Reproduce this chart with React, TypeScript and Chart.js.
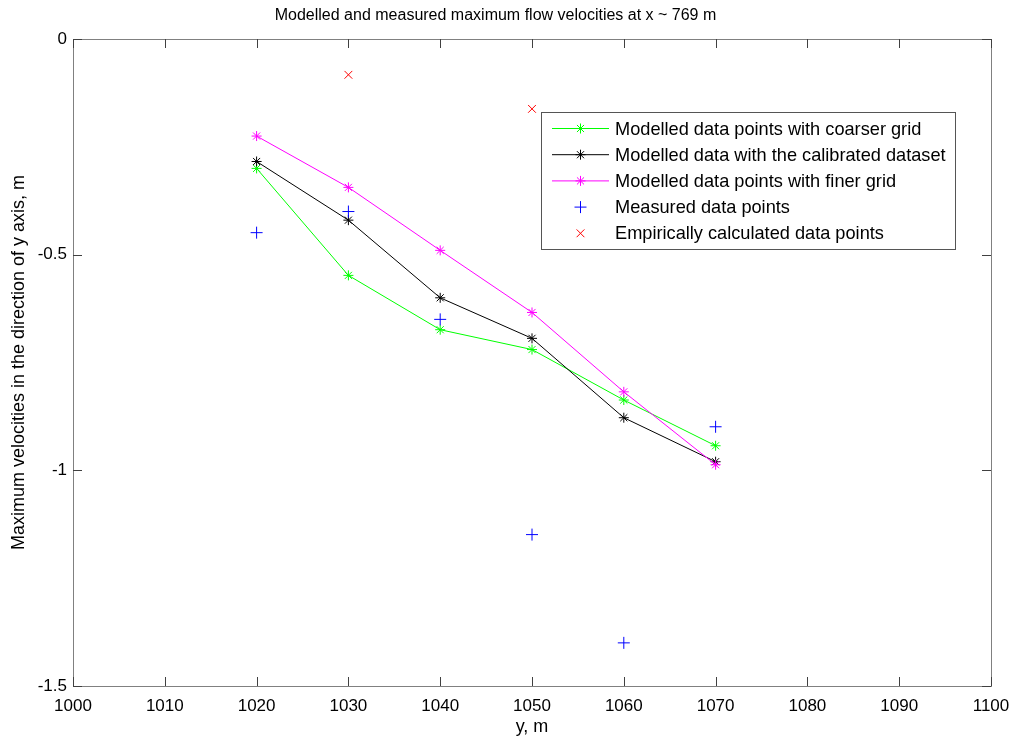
import React, { useEffect, useRef } from "react";
import { Chart, registerables } from "chart.js";

Chart.register(...registerables);

const yPositions = [1020, 1030, 1040, 1050, 1060, 1070];
const coarserGrid = [-0.300, -0.548, -0.674, -0.720, -0.837, -0.943];
const calibrated = [-0.284, -0.420, -0.600, -0.694, -0.878, -0.980];
const finerGrid = [-0.225, -0.344, -0.490, -0.634, -0.818, -0.987];
const measured = [-0.449, -0.400, -0.650, -1.149, -1.400, -0.899];
const empiricalX = [1030, 1050];
const empiricalY = [-0.083, -0.162];

const xTicks = [1000, 1010, 1020, 1030, 1040, 1050, 1060, 1070, 1080, 1090, 1100];
const yTicks = [0, -0.5, -1, -1.5];

const FONT = "Arial, 'Liberation Sans', Helvetica, sans-serif";

function pts(xs: number[], ys: number[]) {
  return xs.map((x, i) => ({ x, y: ys[i] }));
}

function drawMarker(ctx: CanvasRenderingContext2D, style: string, x: number, y: number, r: number, color: string) {
  ctx.save();
  ctx.strokeStyle = color;
  ctx.lineWidth = 1;
  ctx.beginPath();
  if (style === "star" || style === "cross") {
    ctx.moveTo(x - r, y);
    ctx.lineTo(x + r, y);
    ctx.moveTo(x, y - r);
    ctx.lineTo(x, y + r);
  }
  if (style === "star" || style === "crossRot") {
    const d = r * Math.SQRT1_2;
    ctx.moveTo(x - d, y - d);
    ctx.lineTo(x + d, y + d);
    ctx.moveTo(x - d, y + d);
    ctx.lineTo(x + d, y - d);
  }
  ctx.stroke();
  ctx.restore();
}

const framePlugin = {
  id: "frame",
  afterDatasetsDraw(chart: any) {
    const { ctx, chartArea: a, scales } = chart;
    ctx.save();
    ctx.strokeStyle = "#808080";
    ctx.lineWidth = 1;
    ctx.strokeRect(Math.round(a.left) + 0.5, Math.round(a.top) + 0.5, Math.round(a.right - a.left), Math.round(a.bottom - a.top));
    ctx.strokeStyle = "#404040";
    const L = 9;
    ctx.beginPath();
    xTicks.forEach((v) => {
      const px = Math.round(scales.x.getPixelForValue(v)) + 0.5;
      ctx.moveTo(px, a.bottom);
      ctx.lineTo(px, a.bottom - L);
      ctx.moveTo(px, a.top);
      ctx.lineTo(px, a.top + L);
    });
    yTicks.forEach((v) => {
      const py = Math.round(scales.y.getPixelForValue(v)) + 0.5;
      ctx.moveTo(a.left, py);
      ctx.lineTo(a.left + L, py);
      ctx.moveTo(a.right, py);
      ctx.lineTo(a.right - L, py);
    });
    ctx.stroke();
    ctx.restore();
  },
};

const legendPlugin = {
  id: "boxLegend",
  afterDraw(chart: any) {
    const { ctx } = chart;
    const datasets = chart.data.datasets;
    const x0 = 541.5, y0 = 112.5, w = 414, h = 137;
    ctx.save();
    ctx.fillStyle = "#ffffff";
    ctx.fillRect(x0, y0, w, h);
    ctx.strokeStyle = "#555555";
    ctx.lineWidth = 1;
    ctx.strokeRect(x0, y0, w, h);
    ctx.font = `18.2px ${FONT}`;
    ctx.textBaseline = "middle";
    ctx.textAlign = "left";
    datasets.forEach((ds: any, i: number) => {
      const cy = 128.5 + i * 26.2;
      const color = ds.borderColor as string;
      if (ds.showLine) {
        ctx.strokeStyle = color;
        ctx.beginPath();
        ctx.moveTo(552, cy);
        ctx.lineTo(609, cy);
        ctx.stroke();
      }
      drawMarker(ctx, ds.pointStyle, 580.5, cy, ds.pointRadius, color);
      ctx.fillStyle = "#000000";
      ctx.fillText(ds.label, 615, cy + 1);
    });
    ctx.restore();
  },
};

export default function App() {
  const ref = useRef<HTMLCanvasElement | null>(null);
  useEffect(() => {
    document.body.style.margin = "0";
    if (!ref.current) return;
    const common = { borderWidth: 1, pointBorderWidth: 1, pointHoverRadius: 5 };
    const chart = new Chart(ref.current, {
      type: "scatter",
      data: {
        datasets: [
          { ...common, label: "Modelled data points with coarser grid", data: pts(yPositions, coarserGrid), showLine: true, borderColor: "#00ff00", backgroundColor: "#00ff00", pointStyle: "star", pointRadius: 5, order: 3 },
          { ...common, label: "Modelled data with the calibrated dataset", data: pts(yPositions, calibrated), showLine: true, borderColor: "#000000", backgroundColor: "#000000", pointStyle: "star", pointRadius: 5, order: 2 },
          { ...common, label: "Modelled data points with finer grid", data: pts(yPositions, finerGrid), showLine: true, borderColor: "#ff00ff", backgroundColor: "#ff00ff", pointStyle: "star", pointRadius: 5, order: 1 },
          { ...common, label: "Measured data points", data: pts(yPositions, measured), showLine: false, borderColor: "#0000ff", backgroundColor: "#0000ff", pointStyle: "cross", pointRadius: 6, order: 0 },
          { ...common, label: "Empirically calculated data points", data: pts(empiricalX, empiricalY), showLine: false, borderColor: "#ff0000", backgroundColor: "#ff0000", pointStyle: "crossRot", pointRadius: 5.5, order: -1 },
        ] as any,
      },
      options: {
        animation: false,
        responsive: false,
        events: [],
        layout: { padding: { left: 0, right: 26, top: 0, bottom: 0 } },
        plugins: {
          legend: { display: false },
          tooltip: { enabled: false },
          title: {
            display: true,
            text: "Modelled and measured maximum flow velocities at x ~ 769 m",
            color: "#000000",
            font: { family: FONT, size: 16, weight: "normal" },
            padding: { top: 6, bottom: 13.8 },
          },
        },
        scales: {
          x: {
            type: "linear",
            min: 1000,
            max: 1100,
            grid: { display: false, drawTicks: false },
            border: { display: false },
            afterBuildTicks: (s: any) => { s.ticks = xTicks.map((v) => ({ value: v })); },
            afterFit: (s: any) => { s.height = 54; s.paddingRight = 0; s.paddingLeft = 0; },
            ticks: { color: "#000000", padding: 10, maxRotation: 0, font: { family: FONT, size: 17 }, callback: (v: any) => String(v) },
            title: { display: true, text: "y, m", color: "#000000", font: { family: FONT, size: 18 }, padding: { top: 0, bottom: 2 } },
          },
          y: {
            type: "linear",
            min: -1.5,
            max: 0,
            grid: { display: false, drawTicks: false },
            border: { display: false },
            afterBuildTicks: (s: any) => { s.ticks = yTicks.map((v) => ({ value: v })); },
            afterFit: (s: any) => { s.width = 73; s.paddingTop = 0; s.paddingBottom = 0; },
            ticks: { color: "#000000", padding: 6, font: { family: FONT, size: 17 }, callback: (v: any) => String(v) },
            title: { display: true, text: "Maximum velocities in the direction of y axis, m", color: "#000000", font: { family: FONT, size: 18 }, padding: { top: 8, bottom: 0 } },
          },
        },
      },
      plugins: [framePlugin, legendPlugin],
    } as any);
    return () => chart.destroy();
  }, []);
  return (
    <div style={{ width: 1017, height: 740, background: "#ffffff" }}>
      <canvas ref={ref} width={1017} height={740} style={{ display: "block" }} />
    </div>
  );
}
